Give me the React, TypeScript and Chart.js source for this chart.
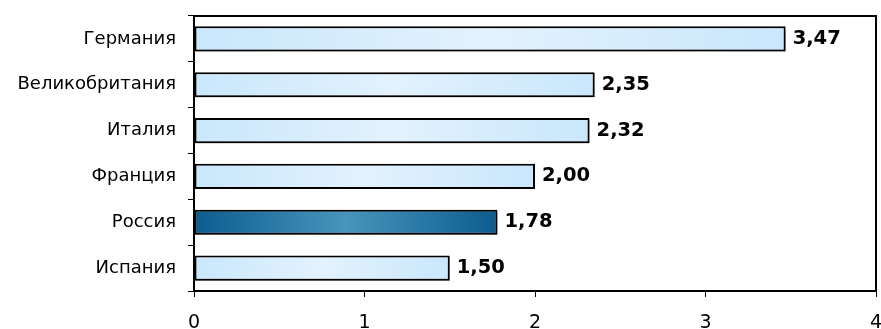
import React, { useEffect, useRef } from "react";
import { Chart, registerables } from "chart.js";

Chart.register(...registerables);

const countries = ["Германия", "Великобритания", "Италия", "Франция", "Россия", "Испания"];
const values = [3.47, 2.35, 2.32, 2.0, 1.78, 1.5];
const highlighted = "Россия";
const xTicks = [0, 1, 2, 3, 4];

const FONT = "'DejaVu Sans', Verdana, sans-serif";

const fmt = (v: number) => v.toFixed(2).replace(".", ",");

// Outline of the plot area drawn on top of everything else
const framePlugin = {
  id: "frame",
  afterDraw(chart: any) {
    const { ctx, chartArea } = chart;
    ctx.save();
    ctx.strokeStyle = "#000";
    ctx.lineWidth = 2;
    ctx.strokeRect(chartArea.left, chartArea.top, chartArea.right - chartArea.left, chartArea.bottom - chartArea.top);
    ctx.restore();
  },
};

// Soft drop shadow beneath each bar
const shadowPlugin = {
  id: "barShadow",
  beforeDatasetsDraw(chart: any) {
    const ctx = chart.ctx;
    ctx.save();
    ctx.shadowColor = "rgba(0,0,0,0.35)";
    ctx.shadowOffsetX = 1;
    ctx.shadowOffsetY = 2;
    ctx.shadowBlur = 1;
  },
  afterDatasetsDraw(chart: any) {
    chart.ctx.restore();
  },
};

// Value labels at the end of each bar
const valueLabelPlugin = {
  id: "valueLabels",
  afterDatasetsDraw(chart: any) {
    const { ctx } = chart;
    const meta = chart.getDatasetMeta(0);
    ctx.save();
    ctx.font = `bold 19.5px ${FONT}`;
    ctx.fillStyle = "#000";
    ctx.textAlign = "left";
    ctx.textBaseline = "middle";
    meta.data.forEach((bar: any, i: number) => {
      ctx.fillText(fmt(values[i]), bar.x + 7, bar.y);
    });
    ctx.restore();
  },
};

export default function App() {
  const canvasRef = useRef<HTMLCanvasElement | null>(null);

  useEffect(() => {
    const canvas = canvasRef.current;
    if (!canvas) return;

    const chart = new Chart(canvas, {
      type: "bar",
      data: {
        labels: countries,
        datasets: [
          {
            data: values,
            borderColor: "#000",
            borderWidth: 2,
            borderSkipped: false,
            barPercentage: 0.55,
            categoryPercentage: 1,
            backgroundColor: (c: any) => {
              const ch = c.chart;
              const xs = ch.scales?.x;
              const isDark = countries[c.dataIndex] === highlighted;
              const edge = isDark ? "#0c5c8e" : "#c9e7fc";
              const mid = isDark ? "#4894bd" : "#e3f2fd";
              if (!xs || c.raw == null) return edge;
              const x0 = xs.getPixelForValue(0);
              const x1 = xs.getPixelForValue(c.raw);
              if (!isFinite(x0) || !isFinite(x1) || x1 === x0) return edge;
              const g = ch.ctx.createLinearGradient(x0, 0, x1, 0);
              g.addColorStop(0, edge);
              g.addColorStop(0.5, mid);
              g.addColorStop(1, edge);
              return g;
            },
          },
        ],
      },
      options: {
        indexAxis: "y",
        responsive: false,
        animation: false,
        events: [],
        layout: { padding: { top: 16, right: 5, left: 0, bottom: 0 } },
        plugins: {
          legend: { display: false },
          tooltip: { enabled: false },
        },
        scales: {
          x: {
            min: 0,
            max: 4,
            afterBuildTicks: (s: any) => {
              s.ticks = xTicks.map((v) => ({ value: v }));
            },
            afterFit: (s: any) => {
              s.height = 38;
              s.paddingLeft = 0;
              s.paddingRight = 0;
            },
            grid: {
              drawOnChartArea: false,
              drawTicks: true,
              tickLength: 6,
              color: "#000",
              lineWidth: 1,
            },
            border: { display: true, color: "#000", width: 2 },
            ticks: {
              padding: 15,
              color: "#000",
              maxRotation: 0,
              font: { family: FONT, size: 19 },
              callback: (v: any) => String(v),
            },
          },
          y: {
            afterFit: (s: any) => {
              s.width = 194;
              s.paddingTop = 0;
              s.paddingBottom = 0;
            },
            grid: {
              drawOnChartArea: false,
              drawTicks: true,
              tickLength: 6,
              color: "#000",
              lineWidth: 1,
              offset: true,
            },
            border: { display: true, color: "#000", width: 2 },
            ticks: {
              padding: 12,
              color: "#000",
              font: { family: FONT, size: 18 },
            },
          },
        },
      },
      plugins: [shadowPlugin, valueLabelPlugin, framePlugin],
    } as any);

    return () => chart.destroy();
  }, []);

  return (
    <div style={{ position: "absolute", left: 0, top: 0, width: 881, height: 329, background: "#fff" }}>
      <canvas ref={canvasRef} width={881} height={329} />
    </div>
  );
}
